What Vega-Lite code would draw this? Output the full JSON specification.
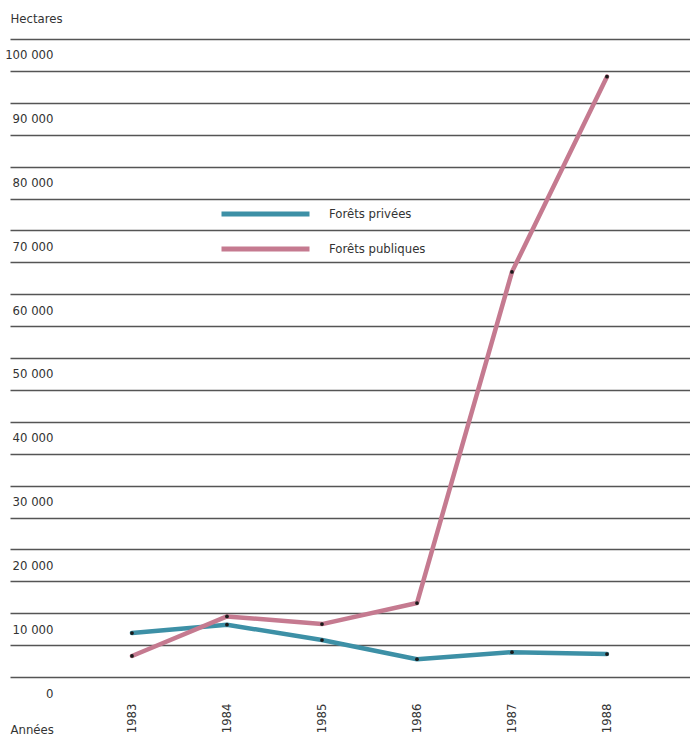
{
  "$schema": "https://vega.github.io/schema/vega-lite/v6.json",
  "width": 680,
  "height": 654,
  "autosize": "none",
  "padding": {"left": 10, "top": 39, "right": 0, "bottom": 45},
  "background": "white",
  "config": {
    "view": {"stroke": null},
    "font": "DejaVu Sans Condensed, Liberation Sans Narrow, sans-serif"
  },
  "data": {
    "values": [
      {"annee": 1983, "serie": "Forêts privées", "ha": 9400},
      {"annee": 1984, "serie": "Forêts privées", "ha": 10700},
      {"annee": 1985, "serie": "Forêts privées", "ha": 8300},
      {"annee": 1986, "serie": "Forêts privées", "ha": 5300},
      {"annee": 1987, "serie": "Forêts privées", "ha": 6400},
      {"annee": 1988, "serie": "Forêts privées", "ha": 6100},
      {"annee": 1983, "serie": "Forêts publiques", "ha": 5800},
      {"annee": 1984, "serie": "Forêts publiques", "ha": 12000},
      {"annee": 1985, "serie": "Forêts publiques", "ha": 10800},
      {"annee": 1986, "serie": "Forêts publiques", "ha": 14100},
      {"annee": 1987, "serie": "Forêts publiques", "ha": 66000},
      {"annee": 1988, "serie": "Forêts publiques", "ha": 96600}
    ]
  },
  "encoding": {
    "x": {
      "field": "annee",
      "type": "quantitative",
      "scale": {"domain": [1981.716, 1988.874], "nice": false, "zero": false},
      "axis": {
        "title": "Années",
        "titleX": 0,
        "titleY": 40,
        "titleAlign": "left",
        "titleAnchor": null,
        "titleBaseline": "alphabetic",
        "titleFontSize": 13,
        "titleFontWeight": "normal",
        "titleColor": "#333",
        "values": [1983, 1984, 1985, 1986, 1987, 1988],
        "format": "d",
        "labelAngle": -90,
        "labelAlign": "right",
        "labelBaseline": "middle",
        "labelPadding": 10,
        "labelFontSize": 13,
        "labelColor": "#333",
        "ticks": false,
        "domain": false,
        "grid": false
      }
    },
    "y": {
      "field": "ha",
      "type": "quantitative",
      "scale": {"domain": [0, 102500], "nice": false, "zero": true},
      "axis": null
    }
  },
  "layer": [
    {
      "mark": {"type": "rule"},
      "encoding": {
        "y": {
          "field": "ha",
          "type": "quantitative",
          "scale": {"domain": [0, 102500], "nice": false},
          "axis": {
            "orient": "left",
            "title": "Hectares",
            "titleAngle": 0,
            "titleX": 0,
            "titleY": -21,
            "titleAlign": "left",
            "titleBaseline": "middle",
            "titleFontSize": 13,
            "titleFontWeight": "normal",
            "titleColor": "#333",
            "values": [0, 10000, 20000, 30000, 40000, 50000, 60000, 70000, 80000, 90000, 100000],
            "labelExpr": "replace(format(datum.value, ','), ',', ' ')",
            "labelAlign": "right",
            "labelBaseline": "middle",
            "labelPadding": -43,
            "labelFontSize": 13,
            "labelColor": "#333",
            "ticks": false,
            "domain": false,
            "grid": false
          }
        },
        "opacity": {"value": 0}
      }
    },
    {
      "mark": {"type": "rule"},
      "encoding": {
        "y": {
          "field": "ha",
          "type": "quantitative",
          "scale": {"domain": [0, 102500], "nice": false},
          "axis": {
            "orient": "right",
            "title": null,
            "values": [2500, 7500, 12500, 17500, 22500, 27500, 32500, 37500, 42500, 47500, 52500, 57500, 62500, 67500, 72500, 77500, 82500, 87500, 92500, 97500, 102500],
            "labels": false,
            "ticks": false,
            "domain": false,
            "grid": true,
            "gridColor": "#555",
            "gridWidth": 1.6,
            "gridOpacity": 1
          }
        },
        "opacity": {"value": 0}
      }
    },
    {
      "mark": {"type": "line", "strokeWidth": 4.5, "strokeCap": "round", "strokeJoin": "round"},
      "encoding": {
        "color": {
          "field": "serie",
          "type": "nominal",
          "scale": {"domain": ["Forêts privées", "Forêts publiques"], "range": ["#3d90a6", "#c57a90"]},
          "legend": {
            "title": null,
            "orient": "none",
            "legendX": 209,
            "legendY": 168,
            "symbolType": "stroke",
            "symbolSize": 7744,
            "symbolStrokeWidth": 5,
            "clipHeight": 14,
            "labelFontSize": 13,
            "labelColor": "#333",
            "labelOffset": 17,
            "rowPadding": 21
          }
        }
      }
    },
    {
      "mark": {"type": "point", "filled": true, "size": 14, "color": "#1a1a1a", "opacity": 1},
      "encoding": {}
    }
  ],
  "resolve": {"axis": {"y": "independent"}}
}
